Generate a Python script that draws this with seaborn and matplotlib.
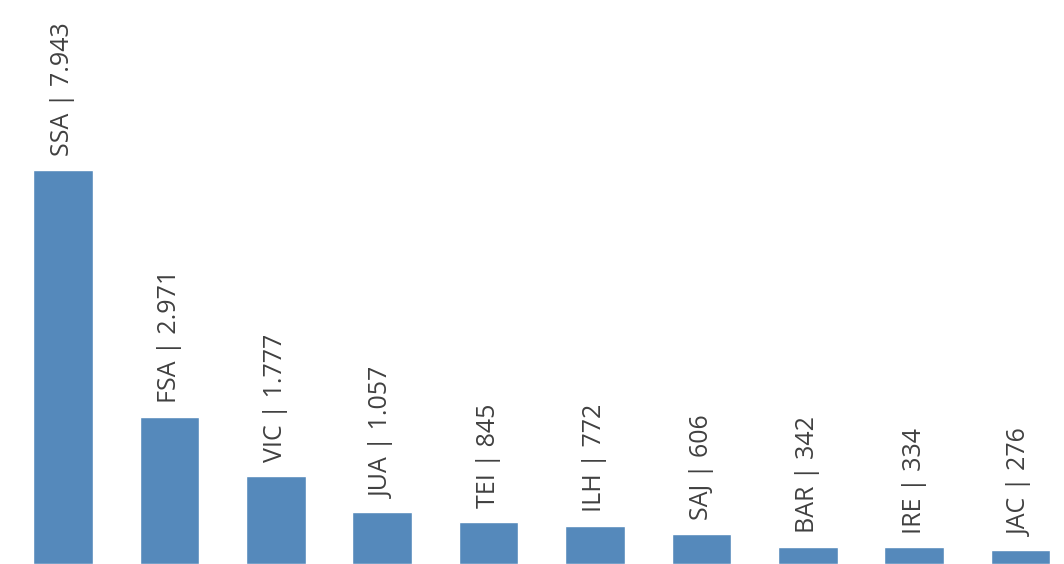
import matplotlib
matplotlib.use("Agg")
import matplotlib.pyplot as plt
import seaborn as sns
import pandas as pd

categories = ["SSA", "FSA", "VIC", "JUA", "TEI", "ILH", "SAJ", "BAR", "IRE", "JAC"]
values = [7943, 2971, 1777, 1057, 845, 772, 606, 342, 334, 276]
value_labels = ["7.943", "2.971", "1.777", "1.057", "845", "772", "606", "342", "334", "276"]

sns.set_style("white")
plt.rcParams['font.family'] = ['Open Sans', 'DejaVu Sans']

df = pd.DataFrame({"cat": categories, "val": values})

fig = plt.figure(figsize=(10.64, 5.64), dpi=100)
ax = fig.add_axes([0, 0, 1, 1])
sns.barplot(data=df, x="cat", y="val", color="#5589bb", saturation=1, width=0.56, ax=ax)

for i, (c, v, lab) in enumerate(zip(categories, values, value_labels)):
    ax.annotate(f"{c} | {lab}", xy=(i, v), xytext=(0, 10), textcoords="offset points",
                rotation=90, ha="center", va="bottom", fontsize=18, color="#404040")

ax.set_xlim(-0.592, 9.408)
ax.set_ylim(0, 11370)
ax.axis("off")
fig.savefig("out.png", dpi=100)
